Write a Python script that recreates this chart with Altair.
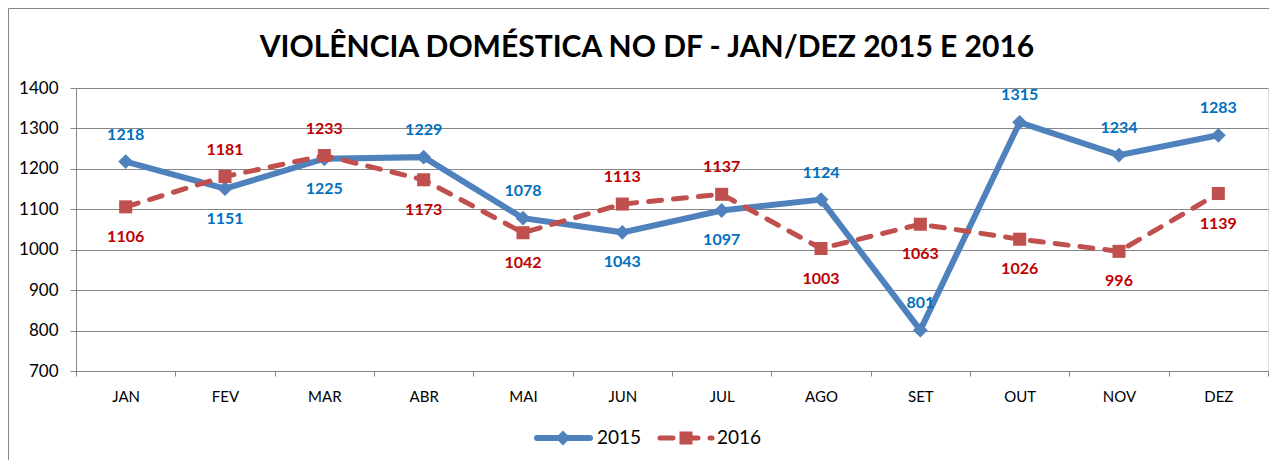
import altair as alt
import pandas as pd

# ---------------- data ----------------
meses = ["JAN", "FEV", "MAR", "ABR", "MAI", "JUN", "JUL", "AGO", "SET", "OUT", "NOV", "DEZ"]
v2015 = [1218, 1151, 1225, 1229, 1078, 1043, 1097, 1124, 801, 1315, 1234, 1283]
v2016 = [1106, 1181, 1233, 1173, 1042, 1113, 1137, 1003, 1063, 1026, 996, 1139]
series = ["2015", "2016"]
y_ticks = [700, 800, 900, 1000, 1100, 1200, 1300, 1400]
# where the 2015 label sits relative to its point (2016 takes the other side)
lado2015 = ["acima", "abaixo", "abaixo", "acima", "acima", "abaixo",
            "abaixo", "acima", "acima", "acima", "acima", "acima"]
titulo = "VIOLÊNCIA DOMÉSTICA NO DF - JAN/DEZ 2015 E 2016"

rows = []
for i, m in enumerate(meses):
    rows.append({"mes": m, "serie": series[0], "valor": v2015[i], "lado": lado2015[i]})
    rows.append({"mes": m, "serie": series[1], "valor": v2016[i],
                 "lado": "abaixo" if lado2015[i] == "acima" else "acima"})
df = pd.DataFrame(rows)

# ---------------- style ----------------
W, H = 1192, 283
FONT = "Lato"
GRID = "#868686"
LINE_C = {"2015": "#4F81BD", "2016": "#C0504D"}
LAB_C = {"2015": "#0070C0", "2016": "#C00000"}

x_enc = alt.X(
    "mes:N", sort=meses,
    scale=alt.Scale(type="band", paddingInner=0, paddingOuter=0),
    axis=alt.Axis(title=None, labelAngle=0, tickBand="extent", grid=False,
                  domainColor=GRID, tickColor=GRID, tickSize=5,
                  labelPadding=13, labelFontSize=15, labelFont=FONT, labelColor="black"),
)
y_enc = alt.Y(
    "valor:Q",
    scale=alt.Scale(domain=[700, 1400], nice=False, zero=False),
    axis=alt.Axis(title=None, values=y_ticks, format="d", grid=True, gridColor=GRID, gridOpacity=1,
                  domainColor=GRID, tickColor=GRID, tickSize=6, labelPadding=12,
                  labelFontSize=17, labelFont=FONT, labelColor="black"),
)

base = alt.Chart(df).encode(x=x_enc, y=y_enc)

layers = []
for s in series:
    sub = base.transform_filter(alt.datum.serie == s)
    if s == "2015":
        line = sub.mark_line(color=LINE_C[s], strokeWidth=6, strokeJoin="miter")
        pts = sub.mark_point(shape="diamond", filled=True, opacity=1, size=220, color=LINE_C[s])
    else:
        line = sub.mark_line(color=LINE_C[s], strokeWidth=5, strokeDash=[13, 12], strokeCap="round")
        pts = sub.mark_point(shape="square", filled=True, opacity=1, size=170, color=LINE_C[s])
    layers += [line, pts]

for s in series:
    for lado, dy in (("acima", -27), ("abaixo", 30)):
        layers.append(
            base.transform_filter((alt.datum.serie == s) & (alt.datum.lado == lado))
            .mark_text(font=FONT, fontSize=16, fontWeight="bold", color=LAB_C[s],
                       baseline="middle", dy=dy)
            .encode(text="valor:Q")
        )

one = pd.DataFrame({"k": [0]})

# title (as text so the decorative frame does not push it out)
layers.append(
    alt.Chart(one).mark_text(font=FONT, fontSize=30, fontWeight="bold", color="black",
                             align="center", baseline="alphabetic")
    .encode(x=alt.value(W / 2 - 25), y=alt.value(-31), text=alt.value(titulo))
)

# outer frame (decoration)
frame_top = alt.Chart(one).mark_rule(color=GRID, strokeWidth=1).encode(
    x=alt.value(-67.5), x2=alt.value(W + 20), y=alt.value(-79.5))
frame_left = alt.Chart(one).mark_rule(color=GRID, strokeWidth=1).encode(
    x=alt.value(-67.5), y=alt.value(-79.5), y2=alt.value(H + 100))
layers += [frame_top, frame_left]

# manual legend
LEG_Y = 350
leg_pos = {"2015": (461, 514, 487, 521), "2016": (584, 636, 610, 641)}
for s in series:
    x0, x1, xm, xt = leg_pos[s]
    if s == "2015":
        r = alt.Chart(one).mark_rule(color=LINE_C[s], strokeWidth=6, strokeCap="round")
        p = alt.Chart(one).mark_point(shape="diamond", filled=True, opacity=1, size=220, color=LINE_C[s])
    else:
        r = alt.Chart(one).mark_rule(color=LINE_C[s], strokeWidth=5, strokeDash=[13, 12], strokeCap="round")
        p = alt.Chart(one).mark_point(shape="square", filled=True, opacity=1, size=170, color=LINE_C[s])
    layers.append(r.encode(x=alt.value(x0), x2=alt.value(x1), y=alt.value(LEG_Y)))
    layers.append(p.encode(x=alt.value(xm), y=alt.value(LEG_Y)))
    layers.append(
        alt.Chart(one).mark_text(font=FONT, fontSize=19, align="left", baseline="middle", color="black")
        .encode(x=alt.value(xt), y=alt.value(LEG_Y), text=alt.value(s))
    )

chart = (
    alt.layer(*layers)
    .properties(
        width=W, height=H,
        padding={"left": 68, "top": 80, "right": 1, "bottom": 89},
        autosize=alt.AutoSizeParams(type="none"),
    )
    .configure_view(fill="#E6E6E6", stroke="transparent")
    .configure(background="white")
)

chart.save("out.html", embed_options={"renderer": "svg", "actions": False})
